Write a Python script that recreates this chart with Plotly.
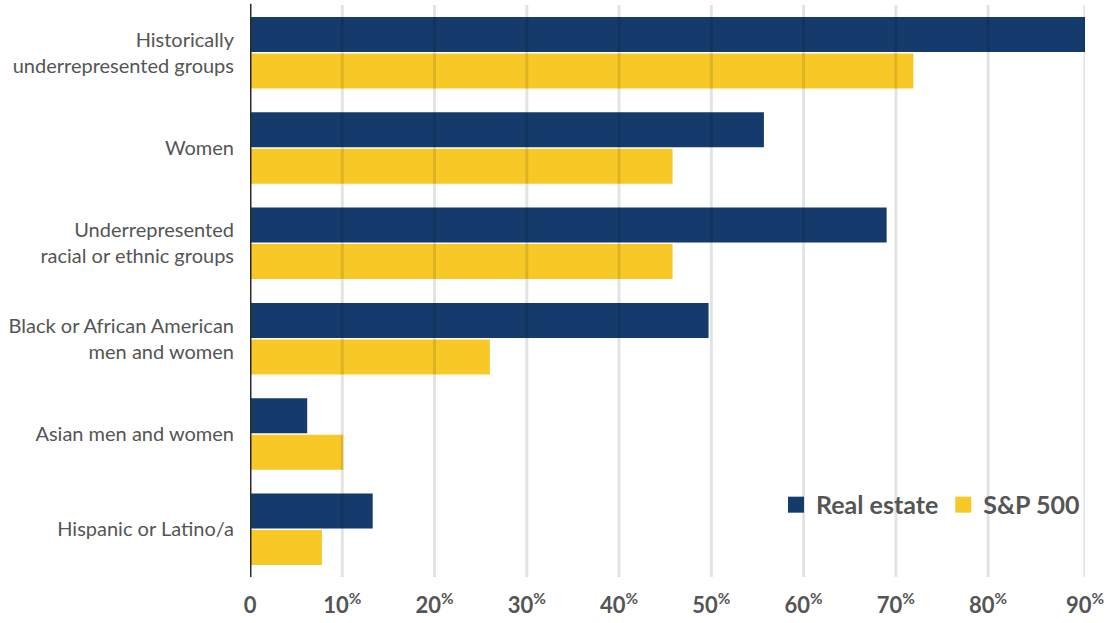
import plotly.graph_objects as go

categories = [
    "Historically<br>underrepresented groups",
    "Women",
    "Underrepresented<br>racial or ethnic groups",
    "Black or African American<br>men and women",
    "Asian men and women",
    "Hispanic or Latino/a",
]
real_estate = [90.5, 55.7, 69.0, 49.7, 6.2, 13.3]
sp500 = [71.9, 45.8, 45.8, 26.0, 10.1, 7.8]
tick_vals = [0, 10, 20, 30, 40, 50, 60, 70, 80, 90.5]
tick_text = ["0"] + [f"{v}<sup>%</sup>" for v in [10, 20, 30, 40, 50, 60, 70, 80, 90]]

NAVY = "#153b6c"
YELLOW = "#f8c926"
TEXT = "#555555"

fig = go.Figure()
fig.add_trace(go.Bar(y=categories, x=real_estate, orientation="h", name="Real estate",
                     marker=dict(color=NAVY, line=dict(width=0)), showlegend=False))
fig.add_trace(go.Bar(y=categories, x=sp500, orientation="h", name="S&P 500",
                     marker=dict(color=YELLOW, line=dict(width=0)), showlegend=False))
# legend-only markers
fig.add_trace(go.Scatter(x=[None], y=[None], mode="markers", name="Real estate",
                         marker=dict(symbol="square", size=18, color=NAVY)))
fig.add_trace(go.Scatter(x=[None], y=[None], mode="markers", name="S&P 500",
                         marker=dict(symbol="square", size=18, color=YELLOW)))

# gridlines drawn above bars
for v in tick_vals[1:]:
    fig.add_shape(type="line", xref="x", yref="paper", x0=v, x1=v, y0=0, y1=1,
                  line=dict(color="rgba(0,0,0,0.11)", width=3), layer="above")
fig.add_shape(type="line", xref="x", yref="paper", x0=0, x1=0, y0=0, y1=1.002,
              line=dict(color="#2a2a2a", width=3), layer="above")

fig.update_layout(
    width=1111, height=623,
    margin=dict(l=250, r=26, t=5, b=46),
    paper_bgcolor="white", plot_bgcolor="white",
    barmode="group", bargap=0.234, bargroupgap=0.04,
    font=dict(family="Lato, sans-serif", color=TEXT),
    legend=dict(orientation="h", x=1.0, xanchor="right", y=0.126, yanchor="middle",
                font=dict(size=25, family="Lato, sans-serif", color=TEXT, weight="bold"),
                bgcolor="rgba(0,0,0,0)", itemwidth=30, traceorder="normal"),
    xaxis=dict(range=[0, 90.5], tickvals=tick_vals, ticktext=tick_text,
               showgrid=False, zeroline=False, showline=False,
               ticks="outside", ticklen=9, tickcolor="white",
               tickfont=dict(size=22, family="Lato, sans-serif", color=TEXT, weight="bold"),
               fixedrange=True),
    yaxis=dict(autorange="reversed", showgrid=False, zeroline=False, showline=False,
               ticks="", ticklabelstandoff=15,
               tickfont=dict(size=20, family="Lato, sans-serif", color=TEXT)),
)

fig.write_html("out.html")
